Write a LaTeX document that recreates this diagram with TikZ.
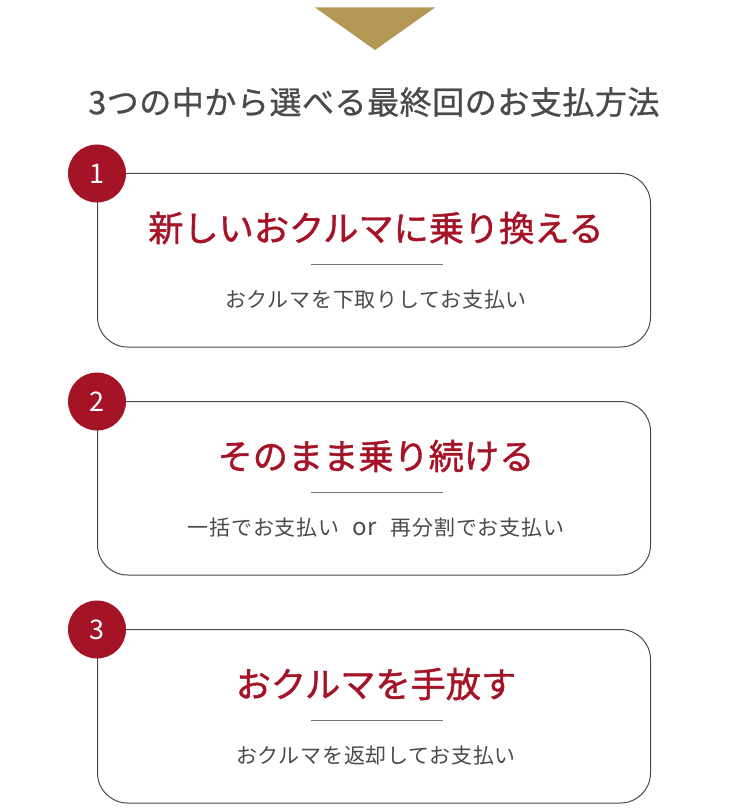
\documentclass[tikz,border=0pt]{standalone}
\usepackage{fontspec}
\setmainfont{Noto Sans CJK JP}
\newfontfamily\headfont[LetterSpace=1.7,FakeBold=0.8]{Noto Sans CJK JP}
\newfontfamily\mainfont[FakeBold=1.2]{Noto Sans CJK JP}
\newfontfamily\subfont[LetterSpace=3.5]{Noto Sans CJK JP}
\definecolor{wine}{HTML}{A51326}
\definecolor{gold}{HTML}{B39855}
\definecolor{ink}{HTML}{4A4A4A}
\tikzset{
	numdot/.style={circle, fill=wine, inner sep=0pt, minimum size=58pt, text=white, font=\fontsize{27}{27}\selectfont},
	mainlabel/.style={text=wine, font=\fontsize{35.2}{36}\mainfont, inner sep=0pt},
	sublabel/.style={text=ink, font=\fontsize{21}{22}\subfont, inner sep=0pt},
	headlabel/.style={text=ink, font=\fontsize{32}{33}\headfont, inner sep=0pt},
	card/.style={ink, line width=1pt, rounded corners=30pt},
	divider/.style={ink!75, line width=1pt},
}
\begin{document}
\begin{tikzpicture} [x=1pt, y=-1pt]

	\useasboundingbox (0,0) rectangle (750,810);

	\fill [gold] (315,7.5) -- (435,7.5) -- (375,50) -- cycle;

	\node [headlabel] (head) at (374,102) {3つの中から選べる最終回のお支払方法};

	% first card
	\draw [card] (97.5,173.5) rectangle (650.5,347);
	\node [numdot] (num1) at (97,173.5) {1};
	\node [mainlabel] (main1) at (376,228) {新しいおクルマに乗り換える};
	\draw [divider] (311,264.5) -- (442.5,264.5);
	\node [sublabel] (sub1) at (376,299.5) {おクルマを下取りしてお支払い};

	% second card
	\draw [card] (97.5,401.5) rectangle (650.5,575);
	\node [numdot] (num2) at (97,401.5) {2};
	\node [mainlabel] (main2) at (376,456) {そのまま乗り続ける};
	\draw [divider] (311,492.5) -- (442.5,492.5);
	\node [sublabel] (sub2) at (376,527.5) {一括でお支払い\hspace{13pt}{\fontsize{24}{22}\selectfont or}\hspace{14pt}再分割でお支払い};

	% third card
	\draw [card] (97.5,629.5) rectangle (650.5,803);
	\node [numdot] (num3) at (97,629.5) {3};
	\node [mainlabel] (main3) at (376,684) {おクルマを手放す};
	\draw [divider] (311,720.5) -- (442.5,720.5);
	\node [sublabel] (sub3) at (376,755.5) {おクルマを返却してお支払い};

\end{tikzpicture}
\end{document}
